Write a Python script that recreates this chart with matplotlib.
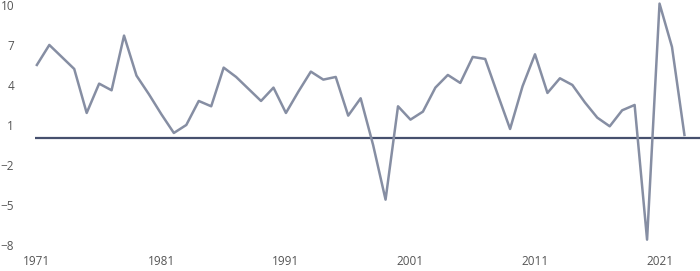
import matplotlib.pyplot as plt

# annual values
years = list(range(1971, 2024))
values = [5.5, 7.0, 6.1, 5.2, 1.9, 4.1, 3.6, 7.7, 4.7, 3.3,
          1.8, 0.4, 1.0, 2.8, 2.4, 5.3, 4.6, 3.7, 2.8, 3.8,
          1.9, 3.5, 5.0, 4.4, 4.6, 1.7, 3.0, -0.5, -4.6, 2.4,
          1.4, 2.0, 3.8, 4.75, 4.15, 6.1, 5.95, 3.3, 0.7, 3.9,
          6.3, 3.4, 4.5, 4.0, 2.7, 1.55, 0.9, 2.1, 2.5, -7.6,
          10.1, 6.85, 0.25]
yticks = [10, 7, 4, 1, -2, -5, -8]
xticks = [1971, 1981, 1991, 2001, 2011, 2021]

plt.rcParams['font.family'] = ['Open Sans', 'DejaVu Sans']

fig = plt.figure(figsize=(7, 2.71), dpi=100)
ax = fig.add_axes([35 / 700, 20 / 271, 665 / 700, 251 / 271])

ax.axhline(0, color='#46506e', linewidth=1.6, zorder=1)
ax.plot(years, values, color='#868ea3', linewidth=1.8, zorder=2)

ax.set_xlim(1970.85, 2024.25)
ax.set_ylim(-8.45, 10.37)
ax.set_yticks(yticks)
ax.set_xticks(xticks)
ax.tick_params(length=0, labelsize=8.5, labelcolor='#555555')
ax.tick_params(axis='y', pad=15)
ax.tick_params(axis='x', pad=3)
for s in ax.spines.values():
    s.set_visible(False)

plt.savefig("out.png", dpi=100)
plt.close()
